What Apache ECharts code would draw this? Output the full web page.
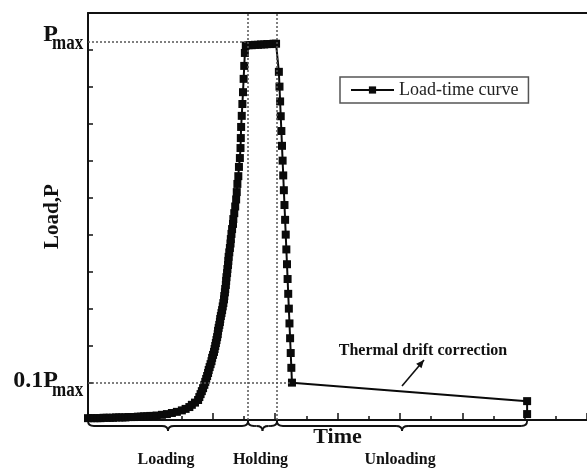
<!DOCTYPE html>
<html>
<head>
<meta charset="utf-8">
<script src="https://cdn.jsdelivr.net/npm/echarts@6/dist/echarts.min.js"></script>
<style>
  html, body { margin: 0; padding: 0; background: #fff; }
  #chart { width: 587px; height: 470px; }
</style>
</head>
<body>
<div id="chart"></div>
<script>
// Loading branch: long flat start, then a steep rise up to the peak load
const loadingTime = [
  0, 1, 2, 3, 4, 5, 6, 7, 8, 9, 10, 11, 12, 13, 14, 15, 16, 17, 18, 19, 20, 21, 22,
  23.7, 25.3, 26.9, 28.5, 30.1, 31.3, 32.5, 33.3, 34.3, 35.3,
  35.7, 36.1, 36.5, 36.9, 37.3, 37.6, 37.9, 38.2, 38.5, 38.7,
  39.0, 39.3, 39.6, 39.8, 40.1, 40.4, 40.6, 40.8, 41.0, 41.2,
  41.4, 41.6, 41.7, 41.9, 42.1, 42.3, 42.4, 42.6, 42.8, 43.0,
  43.2, 43.4, 43.6, 43.7, 43.9, 44.0, 44.2, 44.3, 44.4, 44.6,
  44.7, 44.9, 45.0, 45.1, 45.3, 45.5, 45.7, 45.8, 46.0, 46.2,
  46.5, 46.6, 46.9, 47.2, 47.5, 47.7, 47.9, 48.2, 48.4, 48.7,
  48.9, 49.0, 49.1, 49.3, 49.5, 49.7, 49.9, 50.1, 50.3
];
const loadingLoad = [
  0.5, 0.5, 0.5, 0.5, 0.5, 0.6, 0.6, 0.6, 0.6, 0.7, 0.7, 0.7, 0.7, 0.8, 0.8, 0.8, 0.9, 0.9, 1.0, 1.0, 1.1, 1.1, 1.2,
  1.4, 1.6, 1.9, 2.2, 2.6, 3.0, 3.5, 4.1, 4.7, 5.4,
  6.2, 7.0, 7.8, 8.6, 9.5, 10.3, 11.1, 11.9, 12.7, 13.5,
  14.3, 15.1, 15.9, 16.8, 17.6, 18.4, 19.2, 20.0, 20.8, 21.6,
  22.4, 23.2, 24.1, 24.9, 25.7, 26.5, 27.3, 28.1, 28.9, 29.7,
  30.7, 31.6, 32.6, 33.5, 34.5, 35.4, 36.5, 37.6, 38.6, 39.7,
  40.8, 41.9, 43.0, 44.1, 45.3, 46.5, 47.7, 48.9, 50.3, 51.6,
  53.0, 54.3, 55.9, 57.7, 59.6, 61.6, 63.8, 65.9, 68.4, 70.8,
  73.5, 76.2, 79.2, 82.2, 85.4, 88.6, 92.2, 95.7, 99.2
];

// Holding at peak load
const holdingTime = [50.6, 51.5, 52.5, 53.5, 54.5, 55.5, 56.5, 57.5, 58.5, 59.5, 60.3];
const holdingLoad = [101.2, 101.3, 101.3, 101.4, 101.4, 101.5, 101.5, 101.6, 101.6, 101.7, 101.7];

// Unloading down to 10 % of the peak load
const unloadingTime = [
  61.2, 61.4, 61.6, 61.8, 62.0, 62.2, 62.4, 62.6, 62.8, 63.0, 63.2,
  63.4, 63.6, 63.8, 64.0, 64.2, 64.4, 64.6, 64.8, 65.0, 65.2, 65.4
];
const unloadingLoad = [
  94.1, 90.1, 86.1, 82.1, 78.1, 74.1, 70.1, 66.1, 62.1, 58.1, 54.1,
  50.1, 46.1, 42.1, 38.1, 34.1, 30.1, 26.1, 22.1, 18.1, 14.1, 10.1
];

// Thermal drift hold and final release
const driftTime = [140.8, 140.8];
const driftLoad = [5.1, 1.6];

// Reference levels and phase boundaries (time)
const pMax = 102.2;
const pTenth = 10.2;
const phaseBounds = [0, 51.3, 60.6, 140.8];
const phaseNames = ['Loading', 'Holding', 'Unloading'];

const seriesName = 'Load-time curve';
const serif = '"Liberation Serif", "Times New Roman", serif';

const zip = (t, p) => t.map((v, i) => [v, p[i]]);
const curve = [].concat(
  zip(loadingTime, loadingLoad),
  zip(holdingTime, holdingLoad),
  zip(unloadingTime, unloadingLoad),
  zip(driftTime, driftLoad)
);

const chart = echarts.init(document.getElementById('chart'), null, { renderer: 'canvas' });

const refLine = { color: '#555', type: [2, 2], width: 1.5 };

chart.setOption({
  animation: false,
  backgroundColor: '#fff',
  grid: { left: 88, right: 0, top: 13, bottom: 50, containLabel: false },
  legend: {
    data: [seriesName],
    left: 340, top: 77,
    borderColor: '#555', borderWidth: 1.5, borderRadius: 0,
    padding: [4, 10, 4, 10],
    itemWidth: 43, itemHeight: 9,
    textStyle: { fontFamily: serif, fontSize: 18, color: '#222' }
  },
  xAxis: [{
    type: 'value', min: 0, max: 160, interval: 20,
    name: 'Time', nameLocation: 'middle', nameGap: 6,
    nameTextStyle: { fontFamily: serif, fontWeight: 'bold', fontSize: 22, color: '#111' },
    axisLine: { show: true, lineStyle: { color: '#111', width: 2 } },
    axisTick: { show: true, inside: true, length: 7, lineStyle: { color: '#111', width: 1.5 } },
    minorTick: { show: true, splitNumber: 2, length: 4, lineStyle: { color: '#111', width: 1.5 } },
    axisLabel: { show: false },
    splitLine: { show: false }
  }, {
    type: 'value', position: 'top', min: 0, max: 160,
    axisLine: { show: true, lineStyle: { color: '#111', width: 2 } },
    axisTick: { show: false }, axisLabel: { show: false }, splitLine: { show: false }
  }],
  yAxis: {
    type: 'value', min: 0, max: 110, interval: 10,
    name: 'Load,P', nameLocation: 'middle', nameGap: 25,
    nameTextStyle: { fontFamily: serif, fontWeight: 'bold', fontSize: 21, color: '#111' },
    axisLine: { show: true, lineStyle: { color: '#111', width: 2 } },
    axisTick: { show: true, inside: true, length: 5, lineStyle: { color: '#111', width: 1.5 } },
    axisLabel: { show: false },
    splitLine: { show: false }
  },
  series: [{
    // dotted guide lines at the reference loads and phase boundaries
    type: 'line', data: [], z: 1, silent: true,
    markLine: {
      silent: true, symbol: ['none', 'none'], label: { show: false },
      lineStyle: refLine,
      data: [
        { xAxis: phaseBounds[1] },
        { xAxis: phaseBounds[2] },
        [{ coord: [0, pMax] }, { coord: [holdingTime[0], pMax] }],
        [{ coord: [0, pTenth] }, { coord: [unloadingTime[unloadingTime.length - 1], pTenth] }]
      ]
    }
  }, {
    name: seriesName,
    type: 'line', z: 3,
    data: curve,
    symbol: 'rect', symbolSize: 8, showAllSymbol: true,
    itemStyle: { color: '#0a0a0a' },
    lineStyle: { color: '#0a0a0a', width: 2 },
    clip: false
  }]
});

// Annotations: peak-load labels, phase braces, drift note
function overlay() {
  const toPx = v => chart.convertToPixel({ gridIndex: 0 }, v);
  const base = toPx([0, 0])[1];
  const yMax = toPx([0, pMax])[1];
  const yTenth = toPx([0, pTenth])[1];
  const els = [];
  const ink = { stroke: '#111', lineWidth: 1.8, fill: 'none' };
  const txt = (x, y, text, font, align, extra) => Object.assign({
    type: 'text', x, y, silent: true,
    style: { text, font, fill: '#111', align, verticalAlign: 'middle' }
  }, extra || {});
  const quad = (x1, y1, cx, cy, x2, y2) => ({
    type: 'bezierCurve', silent: true,
    shape: { x1, y1, x2, y2, cpx1: cx, cpy1: cy }, style: ink
  });
  const seg = (x1, y1, x2, y2) => ({
    type: 'line', silent: true, shape: { x1, y1, x2, y2 }, style: ink
  });

  els.push(txt(58, yMax - 7, 'P', 'bold 24px ' + serif, 'right'));
  els.push(txt(52, yMax + 2, 'max', 'bold 17px ' + serif, 'left', { scaleY: 1.25 }));
  els.push(txt(58, yTenth - 1, '0.1P', 'bold 24px ' + serif, 'right'));
  els.push(txt(52, yTenth + 8, 'max', 'bold 17px ' + serif, 'left', { scaleY: 1.25 }));

  for (let i = 0; i < phaseNames.length; i++) {
    const x1 = toPx([phaseBounds[i], 0])[0];
    const x2 = toPx([phaseBounds[i + 1], 0])[0];
    const xm = (x1 + x2) / 2;
    const y0 = base + 1, h = 10, a = y0 + h / 2, q = Math.min(6, (x2 - x1) / 4);
    els.push(quad(x1, y0, x1, a, x1 + q, a));
    els.push(seg(x1 + q, a, xm - q, a));
    els.push(quad(xm - q, a, xm, a, xm, y0 + h));
    els.push(quad(xm, y0 + h, xm, a, xm + q, a));
    els.push(seg(xm + q, a, x2 - q, a));
    els.push(quad(x2 - q, a, x2, a, x2, y0));
    els.push(txt(xm - 2, 460, phaseNames[i], 'bold 16px ' + serif, 'center'));
  }

  els.push(txt(423, 351, 'Thermal drift correction', 'bold 16px ' + serif, 'center'));
  const tail = [402, 386], tip = [424, 360];
  els.push({ type: 'line', silent: true,
    shape: { x1: tail[0], y1: tail[1], x2: tip[0], y2: tip[1] },
    style: { stroke: '#111', lineWidth: 1.6 } });
  const dx = tip[0] - tail[0], dy = tip[1] - tail[1];
  const len = Math.hypot(dx, dy), ux = dx / len, uy = dy / len;
  const bx = tip[0] - ux * 8, by = tip[1] - uy * 8;
  els.push({ type: 'polygon', silent: true,
    shape: { points: [tip, [bx - uy * 3.5, by + ux * 3.5], [bx + uy * 3.5, by - ux * 3.5]] },
    style: { fill: '#111' } });

  chart.setOption({ graphic: { elements: els } });
}
overlay();
</script>
</body>
</html>
